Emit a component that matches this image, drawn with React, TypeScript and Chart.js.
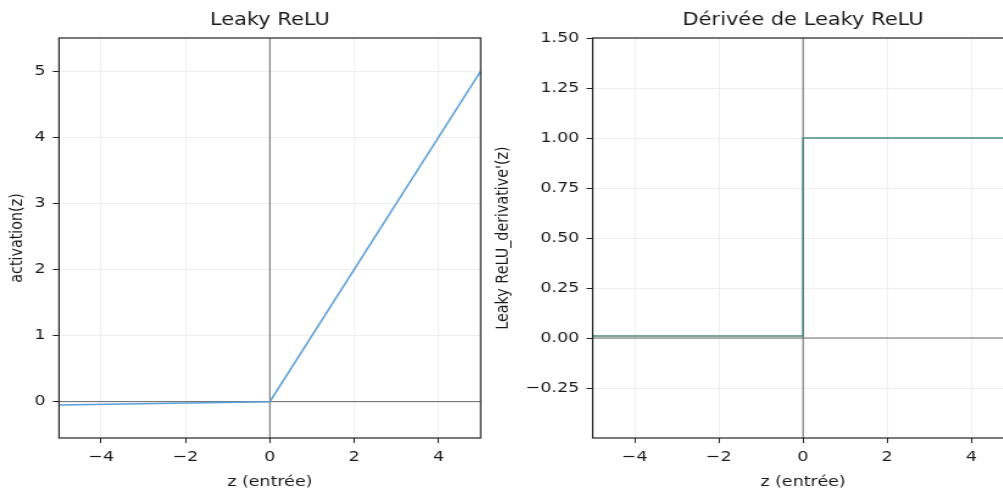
import React, { useEffect, useRef } from "react";
import { Chart, registerables } from "chart.js";

Chart.register(...registerables);

// Leaky ReLU (alpha = 0.01): the curve is piecewise linear, so its corners are enough
const zLeaky = [-5, 0, 5];
const leakyValues = [-0.05, 0, 5];

// Derivative: 0.01 for z < 0, 1 for z >= 0 (jump at z = 0)
const zDeriv = [-5, 0, 0, 5];
const derivValues = [0.01, 0.01, 1, 1];

const zTicks = [-4, -2, 0, 2, 4];
const leakyTicks = [0, 1, 2, 3, 4, 5];
const derivTicks = [-0.25, 0, 0.25, 0.5, 0.75, 1, 1.25, 1.5];

const FONT = "'DejaVu Sans', 'Liberation Sans', sans-serif";
const SX = 1.22; // horizontal stretch applied to each canvas through CSS
const HEIGHT = 491;
const TEXT = "#1a1a1a";
const GRID = "#ebebeb";

const minus = (s: string) => s.replace("-", "\u2212");

type PanelProps = {
  title: string;
  yTitle: string;
  xs: number[];
  ys: number[];
  color: string;
  yMin: number;
  yMax: number;
  yTicks: number[];
  yDecimals: number;
  yAxisWidth: number;
  yTitlePad: number;
  rightPad: number;
  width: number;
  left: number;
};

const panelDecor = {
  id: "panelDecor",
  beforeDatasetsDraw(chart: any) {
    const { ctx, chartArea, scales } = chart;
    const x0 = scales.x.getPixelForValue(0);
    const y0 = scales.y.getPixelForValue(0);
    ctx.save();
    ctx.strokeStyle = "#595959";
    ctx.lineWidth = 0.9;
    ctx.beginPath();
    ctx.moveTo(x0, chartArea.top);
    ctx.lineTo(x0, chartArea.bottom);
    ctx.moveTo(chartArea.left, y0);
    ctx.lineTo(chartArea.right, y0);
    ctx.stroke();
    ctx.restore();
  },
  afterDatasetsDraw(chart: any) {
    const { ctx, chartArea } = chart;
    ctx.save();
    ctx.strokeStyle = "#222";
    ctx.lineWidth = 1.2;
    ctx.strokeRect(
      chartArea.left,
      chartArea.top,
      chartArea.right - chartArea.left,
      chartArea.bottom - chartArea.top
    );
    ctx.restore();
  },
  afterDraw(chart: any) {
    const { ctx, chartArea } = chart;
    const title = chart.options.plugins.panelDecor.title;
    ctx.save();
    ctx.fillStyle = TEXT;
    ctx.font = `17.2px ${FONT}`;
    ctx.textAlign = "center";
    ctx.textBaseline = "middle";
    ctx.fillText(title, (chartArea.left + chartArea.right) / 2, 21);
    ctx.restore();
  },
};

function Panel(p: PanelProps) {
  const ref = useRef<HTMLCanvasElement | null>(null);

  useEffect(() => {
    const canvas = ref.current;
    if (!canvas) return;
    const tickFont = { family: FONT, size: 14.3 };
    const chart = new Chart(canvas, {
      type: "scatter",
      data: {
        datasets: [
          {
            data: p.xs.map((x, i) => ({ x, y: p.ys[i] })),
            showLine: true,
            borderColor: p.color,
            borderWidth: 1.5,
            pointRadius: 0,
            fill: false,
          },
        ],
      },
      options: {
        animation: false,
        responsive: false,
        maintainAspectRatio: false,
        devicePixelRatio: 1,
        events: [],
        layout: { padding: { top: 38, right: p.rightPad, bottom: 0, left: 0 } },
        plugins: {
          legend: { display: false },
          tooltip: { enabled: false },
          title: { display: false },
          panelDecor: { title: p.title },
        } as any,
        scales: {
          x: {
            type: "linear",
            min: -5,
            max: 5,
            afterBuildTicks: (s: any) => {
              s.ticks = zTicks.map((v) => ({ value: v }));
            },
            afterFit: (s: any) => {
              s.height = HEIGHT - 438;
            },
            grid: {
              color: GRID,
              lineWidth: 0.8,
              tickColor: "#222",
              tickLength: 5,
              tickWidth: 1,
            },
            border: { display: false },
            ticks: {
              padding: 6,
              color: TEXT,
              font: tickFont,
              maxRotation: 0,
              autoSkip: false,
              callback: (v: any) => minus(String(v)),
            },
            title: {
              display: true,
              text: "z (entrée)",
              color: TEXT,
              font: tickFont,
              padding: { top: 0, bottom: 0 },
            },
          },
          y: {
            type: "linear",
            min: p.yMin,
            max: p.yMax,
            afterBuildTicks: (s: any) => {
              s.ticks = p.yTicks.map((v) => ({ value: v }));
            },
            afterFit: (s: any) => {
              s.width = p.yAxisWidth;
            },
            grid: {
              color: GRID,
              lineWidth: 0.8,
              tickColor: "#222",
              tickLength: 5,
              tickWidth: 1,
            },
            border: { display: false },
            ticks: {
              padding: 6,
              color: TEXT,
              font: tickFont,
              autoSkip: false,
              callback: (v: any) => minus(Number(v).toFixed(p.yDecimals)),
            },
            title: {
              display: true,
              text: p.yTitle,
              color: TEXT,
              font: tickFont,
              padding: { top: p.yTitlePad, bottom: 0 },
            },
          },
        },
      } as any,
      plugins: [panelDecor],
    });
    return () => chart.destroy();
  }, []);

  return (
    <canvas
      ref={ref}
      width={p.width}
      height={HEIGHT}
      style={{
        position: "absolute",
        left: p.left,
        top: 0,
        width: `${p.width * SX}px`,
        height: `${HEIGHT}px`,
      }}
    />
  );
}

export default function App() {
  return (
    <div
      style={{
        position: "fixed",
        left: 0,
        top: 0,
        width: 1003,
        height: HEIGHT,
        overflow: "hidden",
        background: "#fff",
      }}
    >
      <Panel
        title="Leaky ReLU"
        yTitle="activation(z)"
        xs={zLeaky}
        ys={leakyValues}
        color="#5b9fd9"
        yMin={-0.55}
        yMax={5.5}
        yTicks={leakyTicks}
        yDecimals={0}
        yAxisWidth={48.4}
        yTitlePad={5.3}
        rightPad={25.7}
        width={420}
        left={0}
      />
      <Panel
        title="Dérivée de Leaky ReLU"
        yTitle="Leaky ReLU_derivative'(z)"
        xs={zDeriv}
        ys={derivValues}
        color="#4e8a7f"
        yMin={-0.5}
        yMax={1.5}
        yTicks={derivTicks}
        yDecimals={2}
        yAxisWidth={100.6}
        yTitlePad={18.5}
        rightPad={24.3}
        width={470}
        left={470}
      />
    </div>
  );
}
